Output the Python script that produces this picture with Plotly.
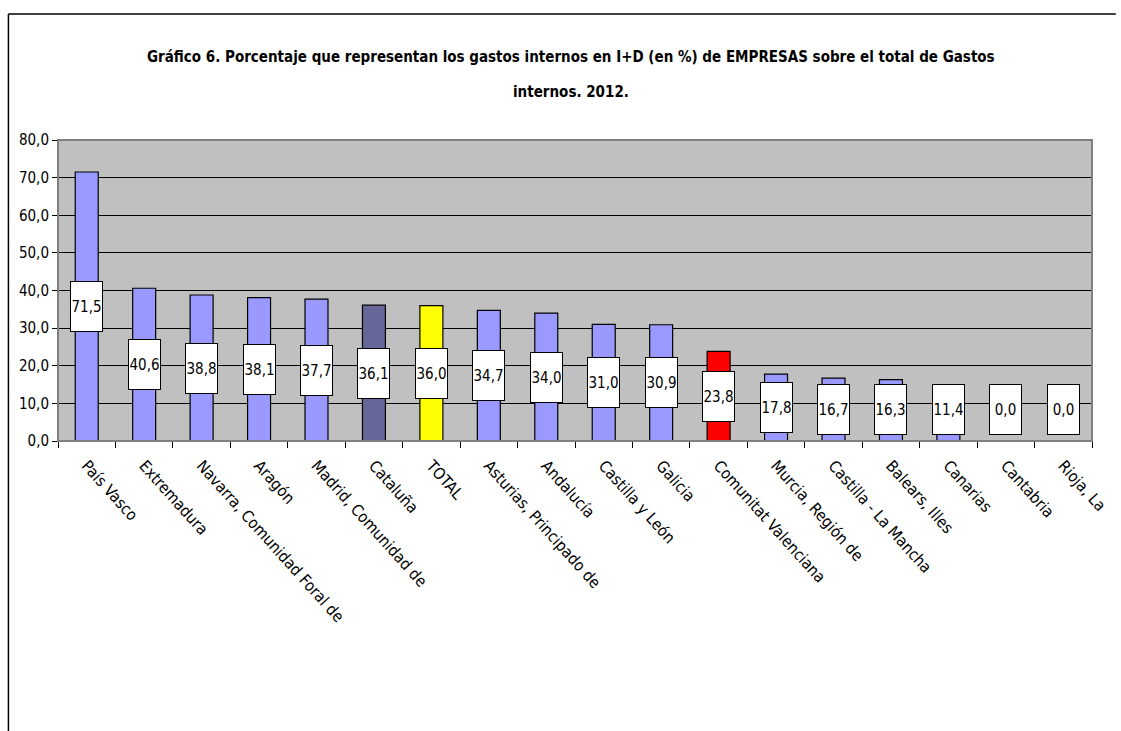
import plotly.graph_objects as go

categories = ["País Vasco", "Extremadura", "Navarra, Comunidad Foral de", "Aragón",
              "Madrid, Comunidad de", "Cataluña", "TOTAL", "Asturias, Principado de",
              "Andalucía", "Castilla y León", "Galicia", "Comunitat Valenciana",
              "Murcia, Región de", "Castilla - La Mancha", "Balears, Illes", "Canarias",
              "Cantabria", "Rioja, La"]
values = [71.5, 40.6, 38.8, 38.1, 37.7, 36.1, 36.0, 34.7, 34.0, 31.0, 30.9, 23.8,
          17.8, 16.7, 16.3, 11.4, 0.0, 0.0]
y_ticks = [0, 10, 20, 30, 40, 50, 60, 70, 80]

title1 = "Gráfico 6. Porcentaje que representan los gastos internos en I+D (en %) de EMPRESAS sobre el total de Gastos"
title2 = "internos. 2012."

special = {"Cataluña": "#666699", "TOTAL": "#FFFF00", "Comunitat Valenciana": "#FF0000"}
colors = [special.get(c, "#9999FF") for c in categories]

FONT = "DejaVu Sans Condensed, Liberation Sans Narrow, Arial Narrow, Liberation Sans, sans-serif"

fig = go.Figure()
fig.add_trace(go.Bar(
    x=categories, y=values,
    marker=dict(color=colors, line=dict(color="#000000", width=1.2)),
    width=0.40, hoverinfo="skip",
))

# value label boxes
for c, v in zip(categories, values):
    fig.add_annotation(
        x=c, y=max(v / 2, 8.3), xref="x", yref="y",
        text=f"{v:.1f}".replace(".", ","), showarrow=False,
        font=dict(family=FONT, size=15, color="#000000"),
        bgcolor="#FFFFFF", bordercolor="#000000", borderwidth=1,
        width=29, height=47, borderpad=1, valign="middle",
    )

# title (two lines)
L, R, T, B = 58, 20, 140, 290
PW, PH = 1121 - L - R, 731 - T - B
def px_x(p):
    return (p - L) / PW
def px_y(p):
    return (731 - B - p) / PH

fig.add_annotation(x=px_x(575), y=px_y(57), xref="paper", yref="paper",
                   text=f"<b>{title1}</b>", showarrow=False,
                   font=dict(family=FONT, size=15, color="#000000"),
                   xanchor="center", yanchor="middle")
fig.add_annotation(x=px_x(575), y=px_y(92), xref="paper", yref="paper",
                   text=f"<b>{title2}</b>", showarrow=False,
                   font=dict(family=FONT, size=15, color="#000000"),
                   xanchor="center", yanchor="middle")

# outer chart border
fig.add_shape(type="line", xref="paper", yref="paper",
              x0=px_x(8), x1=px_x(1125), y0=px_y(14), y1=px_y(14),
              line=dict(color="#000000", width=1.5))
fig.add_shape(type="line", xref="paper", yref="paper",
              x0=px_x(8), x1=px_x(8), y0=px_y(14), y1=px_y(735),
              line=dict(color="#000000", width=1.5))
# plot area border
fig.add_shape(type="rect", xref="paper", yref="paper", x0=0, x1=1, y0=0, y1=1,
              line=dict(color="#808080", width=2), layer="above")

fig.update_layout(
    width=1121, height=731,
    margin=dict(l=L, r=R, t=T, b=B),
    paper_bgcolor="#FFFFFF", plot_bgcolor="#C0C0C0",
    showlegend=False, separators=",.",
    font=dict(family=FONT, color="#000000"),
)
fig.update_yaxes(
    range=[0, 80], tickvals=y_ticks, tickformat=".1f",
    showgrid=True, gridcolor="#000000", gridwidth=1,
    showline=True, linecolor="#000000", linewidth=1,
    ticks="outside", ticklen=5, tickcolor="#000000",
    tickfont=dict(family=FONT, size=15, color="#000000"),
    zeroline=False, fixedrange=True,
)
fig.update_xaxes(
    tickangle=48, ticks="outside", tickson="boundaries", ticklen=6,
    tickcolor="#000000", showline=True, linecolor="#000000", linewidth=1,
    tickfont=dict(family=FONT, size=16, color="#000000"),
    ticklabelstandoff=8,
    showgrid=False, fixedrange=True,
)

fig.write_html("out.html")
